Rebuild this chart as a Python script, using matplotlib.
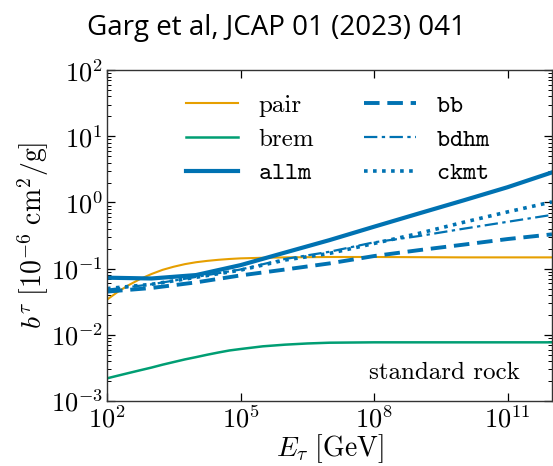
import numpy as np
import matplotlib
matplotlib.use("Agg")
import matplotlib.pyplot as plt
from matplotlib.ticker import LogLocator, NullLocator

plt.rcParams['mathtext.fontset'] = 'cm'
plt.rcParams['font.family'] = 'serif'
plt.rcParams['font.serif'] = ['cmr10']
plt.rcParams['axes.formatter.use_mathtext'] = True
plt.rcParams['axes.unicode_minus'] = False

# energies (log10 GeV)
logE = [2, 3, 4, 5, 6, 7, 8, 9, 10, 11, 12]
allm = [0.073, 0.071, 0.080, 0.113, 0.175, 0.27, 0.43, 0.68, 1.07, 1.7, 2.85]
bb = [0.045, 0.051, 0.062, 0.079, 0.097, 0.12, 0.155, 0.19, 0.23, 0.28, 0.33]
bdhm = [0.048, 0.058, 0.075, 0.097, 0.14, 0.18, 0.25, 0.31, 0.40, 0.51, 0.65]
ckmt = [0.050, 0.058, 0.074, 0.095, 0.135, 0.17, 0.24, 0.34, 0.50, 0.72, 1.02]

logE_fine = [2, 2.25, 2.5, 2.75, 3, 3.25, 3.5, 3.75, 4, 4.25, 4.5, 4.75, 5, 5.5,
             6, 6.5, 7, 8, 9, 10, 11, 12]
pair = [0.034, 0.045, 0.057, 0.070, 0.083, 0.096, 0.107, 0.117, 0.125, 0.131,
        0.136, 0.140, 0.143, 0.146, 0.148, 0.149, 0.150, 0.150, 0.149, 0.148,
        0.148, 0.148]
brem = [0.0022, 0.00242, 0.00266, 0.00292, 0.0032, 0.00354, 0.00388, 0.00425,
        0.0046, 0.0050, 0.0054, 0.0058, 0.0061, 0.0067, 0.0071, 0.0074, 0.0076,
        0.0077, 0.0077, 0.0077, 0.0077, 0.0077]

orange = '#E69F00'
green = '#009E73'
blue = '#0072B2'

E = 10.0 ** np.array(logE)
Ef = 10.0 ** np.array(logE_fine)

fig = plt.figure(figsize=(5.53, 4.66), dpi=100)
ax = fig.add_axes([0.1935, 0.1395, 0.8047, 0.710])

ax.plot(Ef, pair, color=orange, lw=1.5, label='pair')
ax.plot(Ef, brem, color=green, lw=1.8, label='brem')
ax.plot(E, allm, color=blue, lw=3.0, label=r'$\mathtt{allm}$')
ax.plot(E, bb, color=blue, lw=2.8, ls=(0, (4, 2)), label=r'$\mathtt{bb}$')
ax.plot(E, bdhm, color=blue, lw=1.6, ls=(0, (6, 2, 1.5, 2)), label=r'$\mathtt{bdhm}$')
ax.plot(E, ckmt, color=blue, lw=2.6, ls=(0, (1, 1.5)), label=r'$\mathtt{ckmt}$')

ax.set_xscale('log')
ax.set_yscale('log')
ax.set_xlim(1e2, 1e12)
ax.set_ylim(1e-3, 1e2)
ax.set_xticks([1e2, 1e5, 1e8, 1e11])
ax.xaxis.set_minor_locator(NullLocator())
ax.yaxis.set_minor_locator(LogLocator(base=10, subs=np.arange(2, 10), numticks=20))

ax.tick_params(which='both', direction='in', top=True, right=True, labelsize=19)
ax.tick_params(which='major', length=6, width=0.9, pad=3)
ax.tick_params(which='minor', length=3, width=0.7)
for s in ax.spines.values():
    s.set_linewidth(1.0)
    s.set_color('#333333')

ax.set_xlabel(r'$E_\tau\ [\mathrm{GeV}]$', fontsize=20, labelpad=0)
ax.set_ylabel(r'$b^\tau\ [10^{-6}\ \mathrm{cm}^2/\mathrm{g}]$', fontsize=20, labelpad=0)

ax.text(0.928, 0.085, 'standard rock', transform=ax.transAxes, ha='right',
        va='center', fontsize=18)

ax.legend(ncol=2, frameon=False, fontsize=18, loc='upper center',
          bbox_to_anchor=(0.52, 0.995), handlelength=2.1, columnspacing=2.0,
          labelspacing=0.45, handletextpad=0.8)

fig.text(0.5, 0.94, 'Garg et al, JCAP 01 (2023) 041', ha='center', va='center',
         fontsize=20, family='Open Sans')

fig.savefig('out.png', dpi=100)
